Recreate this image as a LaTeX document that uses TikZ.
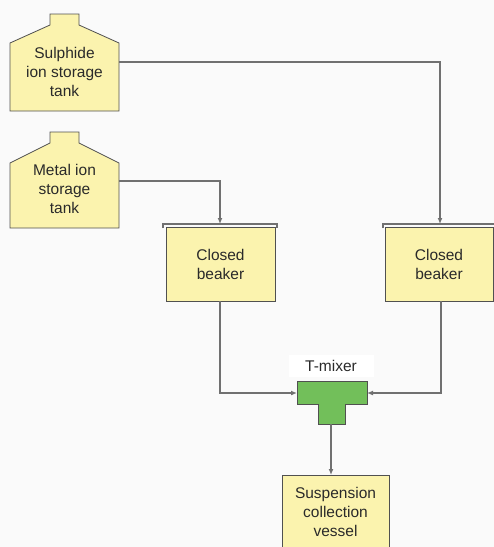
\documentclass[tikz,border=0pt]{standalone}
\usepackage{fontspec}
\setmainfont{Liberation Sans}
\usetikzlibrary{arrows.meta}
\definecolor{tankfill}{HTML}{FBF3AE}
\definecolor{mixgreen}{HTML}{72BF5A}
\definecolor{edgec}{HTML}{505050}
\definecolor{wirec}{HTML}{707070}
\definecolor{bgc}{HTML}{FAFAFA}
\definecolor{txtc}{HTML}{2A2A2A}
\begin{document}
\begin{tikzpicture}[x=1pt,y=-1pt,
  outline/.style={draw=edgec, fill=tankfill, line width=0.8pt},
  lbl/.style={align=center, font=\fontsize{15.5}{19}\selectfont, text=txtc, inner sep=0pt},
  body/.style={inner sep=0pt, outer sep=0pt},
  wire/.style={draw=wirec, line width=1.4pt},
  arr/.style={wire, -{Latex[length=6pt,width=5pt]}},
  brk/.style={draw=wirec, line width=1.2pt},
]
\useasboundingbox (0,0) rectangle (494,547);
\clip (0,0) rectangle (494,547);
\fill[bgc] (0,0) rectangle (494,547);

% Sulphide tank
\draw[outline] (10,111) -- (10,43) -- (50,25) -- (50,14) -- (79,14) -- (79,25) -- (119,43) -- (119,111) -- cycle;
\node[body, minimum width=109pt, minimum height=68pt] (sul) at (64.5,77) {};
\node[lbl] (sultxt) at (64.5,72) {Sulphide\\ion storage\\tank};

% Metal ion tank
\draw[outline] (10,228) -- (10,163) -- (50,143) -- (50,132) -- (79,132) -- (79,143) -- (119,163) -- (119,228) -- cycle;
\node[body, minimum width=109pt, minimum height=65pt] (met) at (64.5,195.5) {};
\node[lbl] (mettxt) at (64.5,189) {Metal ion\\storage\\tank};

% Closed beakers
\node[outline, body, minimum width=109pt, minimum height=74pt] (lb) at (220.5,264) {};
\node[lbl] (lbtxt) at (220.5,264) {Closed\\beaker};
\node[outline, body, minimum width=108pt, minimum height=74pt] (rb) at (439,264) {};
\node[lbl] (rbtxt) at (439,264) {Closed\\beaker};
\draw[brk] (163,228) -- (163,224) -- (277,224) -- (277,228);
\draw[brk] (383,228) -- (383,224) -- (496,224);
\coordinate (lbtop) at (220,224);
\coordinate (rbtop) at (440,224);

% T-mixer
\node[fill=white, minimum width=85pt, minimum height=22pt, inner sep=0pt] (tlabel) at (331,366) {};
\node[lbl] (tlabeltxt) at (331,366) {T-mixer};
\draw[draw=edgec, fill=mixgreen, line width=0.8pt] (297,381) -- (367,381) -- (367,404) -- (345,404) -- (345,424) -- (318,424) -- (318,404) -- (297,404) -- cycle;
\coordinate (tL) at (297,393);
\coordinate (tR) at (367,393);
\coordinate (tB) at (331,424);

% Suspension collection vessel
\draw[outline] (282,560) -- (282,475) -- (389,475) -- (389,560);
\coordinate (vtop) at (331,475);
\node[lbl] (vtxt) at (335.5,512) {Suspension\\collection\\vessel};

% Connectors
\draw[arr] ([yshift=15pt]sul.east) -| (rbtop);
\draw[arr] ([yshift=14.5pt]met.east) -| (lbtop);
\draw[arr] (lb.south -| lbtop) |- (tL);
\draw[arr] (rb.south -| 441,0) |- (tR);
\draw[arr] (tB) -- (vtop);
\end{tikzpicture}
\end{document}
